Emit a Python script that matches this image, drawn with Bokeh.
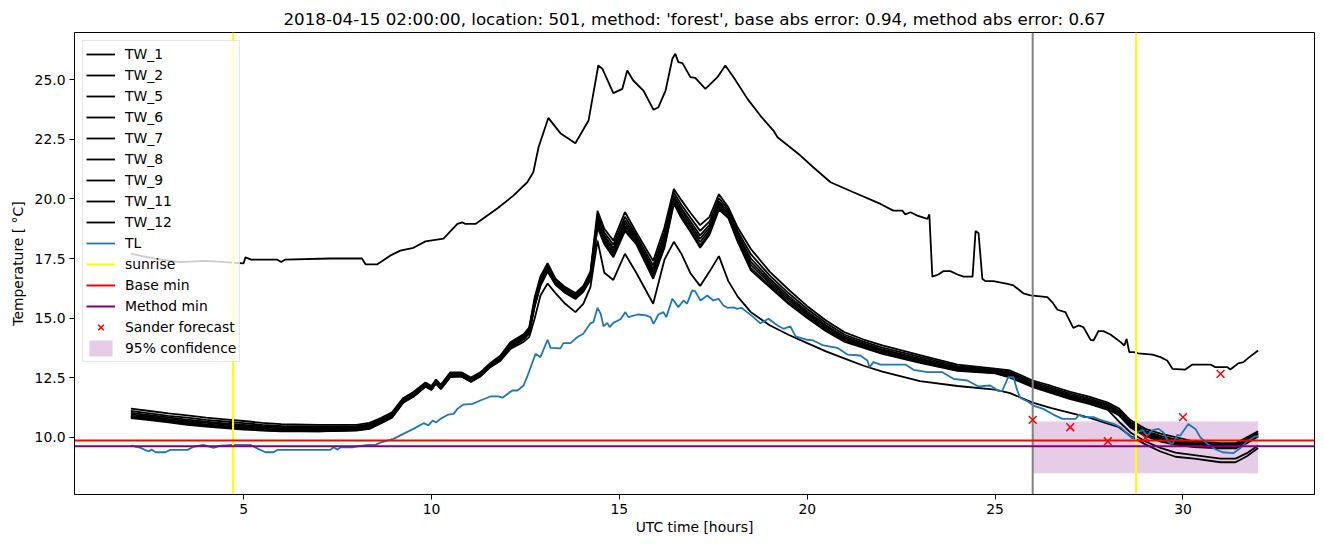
from bokeh.plotting import figure
from bokeh.models import Range1d, Legend, LegendItem, FixedTicker, PrintfTickFormatter
from bokeh.embed import file_html
from bokeh.resources import INLINE

FONT = "DejaVu Sans"
TITLE = "2018-04-15 02:00:00, location: 501, method: 'forest', base abs error: 0.94, method abs error: 0.67"

# ---------------- data ----------------
tw1_t = [2.0, 2.3, 2.8, 3.3, 4.0, 4.5, 5.0, 5.05, 5.2, 5.9, 6.0, 6.1, 7.3, 8.15, 8.25, 8.55, 8.65, 8.9, 9.17, 9.52,
         9.84, 10.32, 10.69, 10.82, 10.9, 11.17, 11.76, 12.18, 12.55, 12.71, 12.85, 13.11, 13.43, 13.83, 14.18, 14.44,
         14.55, 14.84, 15.08, 15.21, 15.37, 15.64, 15.91, 16.04, 16.23, 16.41, 16.49, 16.57, 16.68, 16.89, 17.02, 17.29,
         17.61, 17.82, 18.04, 18.41, 18.75, 19.1, 19.21, 19.82, 20.16, 20.62, 21.23, 21.95, 22.29, 22.53, 22.61, 22.75,
         22.93, 23.2, 23.25, 23.33, 23.49, 23.62, 23.81, 24.0, 24.16, 24.4, 24.48, 24.56, 24.66, 24.74, 24.95, 25.33,
         25.49, 25.75, 25.94, 26.39, 26.52, 26.66, 26.87, 27.08, 27.22, 27.35, 27.54, 27.62, 27.75, 27.88, 28.07, 28.34,
         28.44, 28.5, 28.57, 28.68, 28.81, 29.19, 29.4, 29.58, 29.72, 30.06, 30.25, 30.73, 30.86, 31.18, 31.26, 31.47,
         31.61, 31.74, 32.0]
tw1_v = [17.7, 17.6, 17.45, 17.35, 17.4, 17.35, 17.3, 17.55, 17.45, 17.45, 17.35, 17.45, 17.5, 17.5, 17.25, 17.25,
         17.35, 17.62, 17.83, 17.95, 18.22, 18.33, 18.95, 19.02, 18.95, 18.95, 19.61, 20.14, 20.7, 21.12, 22.17, 23.4,
         22.76, 22.34, 23.29, 25.6, 25.46, 24.44, 24.62, 25.39, 24.97, 24.55, 23.74, 23.85, 24.55, 25.88, 26.09, 25.74,
         25.7, 25.11, 25.08, 24.62, 25.11, 25.6, 25.11, 24.2, 23.5, 22.87, 22.59, 21.82, 21.33, 20.7, 20.28, 19.79,
         19.51, 19.51, 19.35, 19.44, 19.3, 19.16, 19.35, 16.74, 16.83, 16.97, 16.97, 16.83, 16.74, 16.74, 18.65, 18.56,
         16.65, 16.55, 16.55, 16.44, 16.37, 16.04, 15.95, 15.88, 15.67, 15.35, 15.25, 14.59, 14.69, 14.62, 14.09, 14.06,
         14.45, 14.45, 14.31, 13.99, 13.85, 14.13, 13.57, 13.57, 13.52, 13.47, 13.36, 13.22, 12.87, 12.84, 13.05, 13.05,
         12.94, 12.94, 12.84, 13.1, 13.15, 13.33, 13.64]

# common time axis of the other sensors
cl_t = [2.0, 2.5, 3.0, 3.5, 4.0, 4.5, 5.0, 5.5, 6.0, 7.0,
        8.0, 8.35, 8.65, 8.95, 9.25, 9.52, 9.84, 10.0, 10.12, 10.25,
        10.5, 10.8, 11.05, 11.3, 11.57, 11.83, 12.1, 12.45, 12.6, 12.75,
        12.9, 13.09, 13.3, 13.56, 13.83, 14.04, 14.23, 14.42, 14.6, 14.84,
        15.15, 15.45, 15.9, 16.2, 16.45, 16.65, 16.9, 17.15, 17.4, 17.65,
        17.9, 18.15, 18.5, 19.0, 19.5, 20.0, 20.5, 21.0, 21.5, 22.0,
        23.0, 24.0, 25.0, 25.4, 26.0, 26.5, 27.0, 27.5, 28.0, 28.3,
        28.6, 29.0, 29.4, 29.8, 30.3, 31.0, 31.4, 31.7, 32.0]

tw2 = [11.2, 11.1, 11.0, 10.92, 10.82, 10.75, 10.68, 10.6, 10.55, 10.52,
       10.52, 10.6, 10.8, 11.05, 11.65, 11.9, 12.3, 12.15, 12.42, 12.2,
       12.72, 12.72, 12.5, 12.72, 13.12, 13.42, 13.98, 14.32, 14.6, 15.9,
       16.75, 17.3, 16.65, 16.3, 16.05, 16.35, 16.95, 19.5, 18.75, 18.25,
       19.45, 18.6, 17.4, 18.8, 20.42, 19.95, 19.4, 18.9, 19.25, 20.2,
       19.65, 18.8, 17.9, 16.95, 16.2, 15.5, 14.9, 14.4, 14.1, 13.85,
       13.45, 13.05, 12.88, 12.8, 12.38, 12.15, 11.9, 11.7, 11.45, 11.2,
       10.72, 10.35, 10.15, 10.0, 9.82, 9.75, 9.75, 10.0, 10.25]
tw5 = [11.1, 11.0, 10.9, 10.82, 10.73, 10.66, 10.59, 10.52, 10.47, 10.45,
       10.46, 10.54, 10.75, 10.99, 11.6, 11.85, 12.26, 12.11, 12.38, 12.16,
       12.67, 12.68, 12.46, 12.68, 13.08, 13.37, 13.92, 14.27, 14.54, 15.8,
       16.65, 17.21, 16.59, 16.24, 15.99, 16.29, 16.86, 19.33, 18.59, 18.08,
       19.25, 18.48, 17.21, 18.59, 20.27, 19.76, 19.2, 18.66, 19.06, 20.04,
       19.54, 18.65, 17.68, 16.79, 16.05, 15.38, 14.79, 14.3, 14.01, 13.76,
       13.37, 12.98, 12.83, 12.73, 12.31, 12.08, 11.83, 11.63, 11.38, 11.12,
       10.64, 10.26, 10.06, 9.91, 9.75, 9.69, 9.69, 9.93, 10.19]
tw6 = [11.02, 10.93, 10.83, 10.74, 10.65, 10.58, 10.52, 10.46, 10.42, 10.4,
       10.41, 10.49, 10.7, 10.95, 11.56, 11.81, 12.22, 12.07, 12.34, 12.12,
       12.63, 12.64, 12.42, 12.64, 13.04, 13.33, 13.88, 14.22, 14.49, 15.72,
       16.57, 17.14, 16.54, 16.19, 15.94, 16.24, 16.79, 19.19, 18.46, 17.94,
       19.09, 18.38, 17.06, 18.42, 20.14, 19.61, 19.04, 18.47, 18.91, 19.91,
       19.45, 18.53, 17.5, 16.66, 15.93, 15.28, 14.7, 14.22, 13.94, 13.69,
       13.3, 12.93, 12.79, 12.67, 12.25, 12.02, 11.77, 11.57, 11.32, 11.06,
       10.57, 10.19, 9.98, 9.84, 9.7, 9.64, 9.64, 9.87, 10.14]
tw7 = [10.96, 10.87, 10.77, 10.68, 10.6, 10.53, 10.46, 10.41, 10.37, 10.36,
       10.38, 10.45, 10.67, 10.91, 11.53, 11.78, 12.19, 12.05, 12.32, 12.09,
       12.6, 12.62, 12.39, 12.62, 13.02, 13.3, 13.84, 14.19, 14.45, 15.66,
       16.51, 17.09, 16.5, 16.15, 15.9, 16.2, 16.74, 19.08, 18.36, 17.83,
       18.97, 18.3, 16.95, 18.29, 20.05, 19.5, 18.92, 18.33, 18.8, 19.81,
       19.38, 18.44, 17.36, 16.56, 15.84, 15.2, 14.63, 14.16, 13.89, 13.64,
       13.25, 12.89, 12.76, 12.62, 12.21, 11.97, 11.72, 11.52, 11.27, 11.01,
       10.52, 10.14, 9.93, 9.79, 9.66, 9.6, 9.6, 9.83, 10.1]
tw8 = [10.9, 10.82, 10.72, 10.62, 10.54, 10.47, 10.41, 10.36, 10.32, 10.32,
       10.34, 10.41, 10.63, 10.88, 11.5, 11.75, 12.17, 12.02, 12.29, 12.07,
       12.57, 12.59, 12.37, 12.59, 12.99, 13.27, 13.81, 14.16, 14.41, 15.6,
       16.45, 17.04, 16.46, 16.11, 15.86, 16.16, 16.69, 18.98, 18.26, 17.73,
       18.85, 18.23, 16.84, 18.16, 19.96, 19.39, 18.8, 18.19, 18.69, 19.71,
       19.31, 18.35, 17.23, 16.46, 15.75, 15.13, 14.56, 14.1, 13.84, 13.59,
       13.2, 12.85, 12.73, 12.58, 12.17, 11.93, 11.68, 11.48, 11.23, 10.96,
       10.47, 10.09, 9.87, 9.74, 9.62, 9.56, 9.56, 9.79, 10.06]
tw9 = [10.8, 10.72, 10.62, 10.52, 10.45, 10.38, 10.32, 10.28, 10.25, 10.25,
       10.28, 10.35, 10.58, 10.82, 11.45, 11.7, 12.12, 11.98, 12.25, 12.02,
       12.52, 12.55, 12.32, 12.55, 12.95, 13.22, 13.75, 14.1, 14.35, 15.5,
       16.35, 16.95, 16.4, 16.05, 15.8, 16.1, 16.6, 18.8, 18.1, 17.55,
       18.65, 18.1, 16.65, 17.95, 19.8, 19.2, 18.6, 17.95, 18.5, 19.55,
       19.2, 18.2, 17.0, 16.3, 15.6, 15.0, 14.45, 14.0, 13.75, 13.5,
       13.12, 12.78, 12.68, 12.5, 12.1, 11.85, 11.6, 11.4, 11.15, 10.65,
       10.2, 9.82, 9.55, 9.35, 9.25, 9.1, 9.1, 9.33, 9.65]
tw11 = [10.84, 10.76, 10.66, 10.56, 10.49, 10.42, 10.36, 10.31, 10.28, 10.28,
        10.3, 10.37, 10.6, 10.84, 11.47, 11.72, 12.14, 12.0, 12.27, 12.04,
        12.54, 12.57, 12.34, 12.57, 12.97, 13.24, 13.77, 14.12, 14.38, 15.54,
        16.39, 16.99, 16.43, 16.08, 15.83, 16.13, 16.64, 18.87, 18.17, 17.62,
        18.73, 18.15, 16.73, 18.04, 19.86, 19.28, 18.68, 18.05, 18.58, 19.62,
        19.25, 18.26, 17.09, 16.37, 15.66, 15.05, 14.5, 14.04, 13.79, 13.54,
        13.15, 12.81, 12.7, 12.53, 12.13, 11.88, 11.63, 11.43, 11.18, 10.91,
        10.41, 10.04, 9.82, 9.69, 9.58, 9.53, 9.53, 9.75, 10.03]
tw12 = [10.85, 10.8, 10.7, 10.6, 10.5, 10.42, 10.35, 10.3, 10.27, 10.25,
        10.3, 10.38, 10.6, 10.85, 11.5, 11.72, 12.15, 12.0, 12.28, 12.05,
        12.55, 12.55, 12.35, 12.55, 12.95, 13.2, 13.7, 14.0, 14.2, 15.0,
        15.95, 16.45, 16.05, 15.6, 15.25, 15.6, 16.3, 18.25, 16.9, 16.6,
        17.7, 16.9, 15.6, 17.45, 18.2, 17.7, 16.86, 16.35, 16.95, 17.6,
        16.55, 15.9, 15.25, 14.7, 14.3, 13.95, 13.6, 13.3, 13.0, 12.75,
        12.35, 12.15, 12.0, 11.85, 11.45, 11.22, 11.02, 10.82, 10.57, 10.42,
        10.05, 9.7, 9.4, 9.18, 9.1, 8.95, 8.95, 9.2, 9.55]

tl_t = [2.0, 2.26, 2.47, 2.55, 2.66, 2.92, 3.05, 3.51, 3.67, 3.93,
        4.2, 4.38, 4.73, 5.18, 5.4, 5.58, 5.8, 5.9, 7.31, 7.39,
        7.5, 7.58, 7.92, 8.3, 8.51, 8.64, 8.99, 9.25, 9.52, 9.79,
        9.92, 10.03, 10.12, 10.24, 10.45, 10.59, 10.69, 10.85, 11.09, 11.3,
        11.57, 11.78, 11.89, 12.15, 12.29, 12.45, 12.55, 12.77, 12.9, 13.09,
        13.17, 13.43, 13.51, 13.7, 13.83, 13.91, 14.04, 14.23, 14.31, 14.42,
        14.5, 14.58, 14.68, 14.74, 14.84, 15.03, 15.16, 15.24, 15.48, 15.69,
        15.83, 15.91, 16.04, 16.17, 16.25, 16.41, 16.57, 16.71, 16.8, 16.94,
        17.02, 17.16, 17.34, 17.5, 17.64, 17.77, 17.88, 18.04, 18.14, 18.25,
        18.57, 18.75, 18.97, 19.21, 19.37, 19.55, 19.69, 20.0, 20.16, 20.43,
        20.8, 21.07, 21.41, 21.6, 21.66, 21.76, 21.95, 22.61, 22.83, 23.2,
        23.6, 23.89, 24.26, 24.56, 24.87, 25.01, 25.09, 25.19, 25.35, 25.49,
        25.59, 25.67, 25.86, 26.02, 26.28, 26.55, 26.79, 27.14, 27.24, 27.35,
        27.62, 27.8, 28.15, 28.34, 28.52, 28.65, 28.79, 28.92, 29.05, 29.19,
        29.35, 29.48, 29.61, 29.72, 29.85, 29.93, 30.14, 30.33, 30.46, 30.65,
        30.86, 31.05, 31.34, 31.53, 31.72, 31.92, 32.0]
tl_v = [9.65, 9.55, 9.4, 9.48, 9.37, 9.37, 9.47, 9.47, 9.6, 9.68,
        9.55, 9.65, 9.68, 9.68, 9.5, 9.37, 9.37, 9.47, 9.47, 9.58,
        9.48, 9.58, 9.58, 9.68, 9.68, 9.77, 9.93, 10.14, 10.35, 10.59,
        10.5, 10.7, 10.62, 10.77, 10.95, 10.98, 11.19, 11.37, 11.4, 11.54,
        11.71, 11.71, 11.66, 11.96, 11.96, 12.17, 12.55, 13.5, 13.36, 14.09,
        13.75, 13.73, 13.95, 13.95, 14.13, 14.23, 14.34, 14.78, 14.83, 15.43,
        15.2, 14.65, 14.8, 14.62, 14.8, 14.95, 15.25, 15.04, 15.15, 15.12,
        15.04, 14.76, 15.15, 15.25, 15.04, 15.81, 15.46, 15.74, 15.6, 16.16,
        16.12, 15.74, 15.95, 15.74, 15.81, 15.53, 15.43, 15.45, 15.39, 15.43,
        15.04, 14.78, 14.97, 14.69, 14.55, 14.65, 14.23, 14.09, 14.06, 13.85,
        13.75, 13.47, 13.43, 13.22, 12.94, 13.15, 13.05, 13.05, 12.83, 12.73,
        12.73, 12.45, 12.38, 12.13, 12.17, 12.03, 11.93, 11.95, 12.52, 12.52,
        11.96, 11.65, 11.51, 11.33, 11.19, 10.95, 10.77, 10.77, 10.95, 10.84,
        10.84, 10.73, 10.56, 10.42, 10.14, 9.95, 10.21, 10.31, 10.07, 10.3,
        10.35, 10.2, 9.8, 9.72, 10.1, 10.07, 10.55, 10.35, 10.0, 9.72,
        9.5, 9.37, 9.33, 9.55, 9.85, 10.03, 10.05]

sunrise = [4.72, 28.75]
forecast_time = [26.0]
base_min = [9.86]
method_min = [9.62]
sander_t = [26, 27, 28, 29, 30, 31]
sander_v = [10.73, 10.42, 9.83, 9.97, 10.84, 12.66]
conf_t = [26.0, 32.0]
conf_low = [8.49]
conf_high = [10.66]

sensor_names = ["TW_2", "TW_5", "TW_6", "TW_7", "TW_8", "TW_9", "TW_11", "TW_12"]
sensor_values = [tw2, tw5, tw6, tw7, tw8, tw9, tw11, tw12]

# axis limits
X_LO, X_HI = 0.5, 33.5
Y_LO, Y_HI = 7.596, 26.985

# ---------------- figure ----------------
p = figure(width=1320, height=545, x_range=Range1d(X_LO, X_HI), y_range=Range1d(Y_LO, Y_HI),
           output_backend="svg", toolbar_location=None, title=TITLE,
           min_border_left=74, min_border_right=6, min_border_top=32, min_border_bottom=51)
p.background_fill_color = "white"
p.border_fill_color = "white"
p.outline_line_color = "black"
p.outline_line_width = 1
p.grid.visible = False

p.title.text_font = FONT
p.title.text_font_size = "16.7px"
p.title.text_font_style = "normal"
p.title.align = "center"
p.title.standoff = 7
p.title.text_color = "black"

for ax in (p.xaxis[0], p.yaxis[0]):
    ax.major_label_text_font = FONT
    ax.major_label_text_font_size = "13.9px"
    ax.major_label_text_color = "black"
    ax.axis_label_text_font = FONT
    ax.axis_label_text_font_size = "13.9px"
    ax.axis_label_text_font_style = "normal"
    ax.axis_label_text_color = "black"
    ax.major_tick_out = 5
    ax.major_tick_in = 0
    ax.minor_tick_line_color = None
    ax.axis_line_color = "black"
    ax.major_tick_line_color = "black"
    ax.major_label_standoff = 4

p.xaxis.ticker = FixedTicker(ticks=[5, 10, 15, 20, 25, 30])
p.yaxis.ticker = FixedTicker(ticks=[10.0, 12.5, 15.0, 17.5, 20.0, 22.5, 25.0])
p.yaxis.formatter = PrintfTickFormatter(format="%.1f")
p.xaxis.axis_label = "UTC time [hours]"
p.yaxis.axis_label = "Temperature [ °C]"
p.xaxis.axis_label_standoff = 2
p.yaxis.axis_label_standoff = 6

LW = 1.8

# confidence band
r_conf = p.quad(left=[conf_t[0]], right=[conf_t[1]], bottom=conf_low, top=conf_high,
                fill_color="purple", fill_alpha=0.2, line_color=None)

items = []
r1 = p.line(tw1_t, tw1_v, line_color="black", line_width=LW)
items.append(LegendItem(label="TW_1", renderers=[r1]))
for name, vals in zip(sensor_names, sensor_values):
    r = p.line(cl_t, vals, line_color="black", line_width=LW)
    items.append(LegendItem(label=name, renderers=[r]))

r_tl = p.line(tl_t, tl_v, line_color="#1f77b4", line_width=LW)
items.append(LegendItem(label="TL", renderers=[r_tl]))

# vertical / horizontal reference lines spanning the whole axes
r_sun = p.segment(x0=sunrise, x1=sunrise, y0=[Y_LO] * len(sunrise), y1=[Y_HI] * len(sunrise),
                  line_color="yellow", line_width=2)
p.segment(x0=forecast_time, x1=forecast_time, y0=[Y_LO], y1=[Y_HI], line_color="grey", line_width=2)
r_base = p.segment(x0=[X_LO], x1=[X_HI], y0=base_min, y1=base_min, line_color="red", line_width=2)
r_meth = p.segment(x0=[X_LO], x1=[X_HI], y0=method_min, y1=method_min, line_color="purple", line_width=2)
items.append(LegendItem(label="sunrise", renderers=[r_sun]))
items.append(LegendItem(label="Base min", renderers=[r_base]))
items.append(LegendItem(label="Method min", renderers=[r_meth]))

r_sander = p.scatter(sander_t, sander_v, marker="x", size=11, line_color="red", line_width=1.5)
items.append(LegendItem(label="Sander forecast", renderers=[r_sander]))
items.append(LegendItem(label="95% confidence", renderers=[r_conf]))

legend = Legend(items=items, location="top_left")
legend.label_text_font = FONT
legend.label_text_font_size = "13.9px"
legend.label_text_color = "black"
legend.glyph_width = 29
legend.glyph_height = 20
legend.label_height = 20
legend.spacing = 1
legend.padding = 3
legend.margin = 8
legend.label_standoff = 10
legend.border_line_color = "#cccccc"
legend.border_line_width = 1
legend.background_fill_alpha = 0.8
p.add_layout(legend)

open("out.html", "w").write(file_html(p, INLINE))
